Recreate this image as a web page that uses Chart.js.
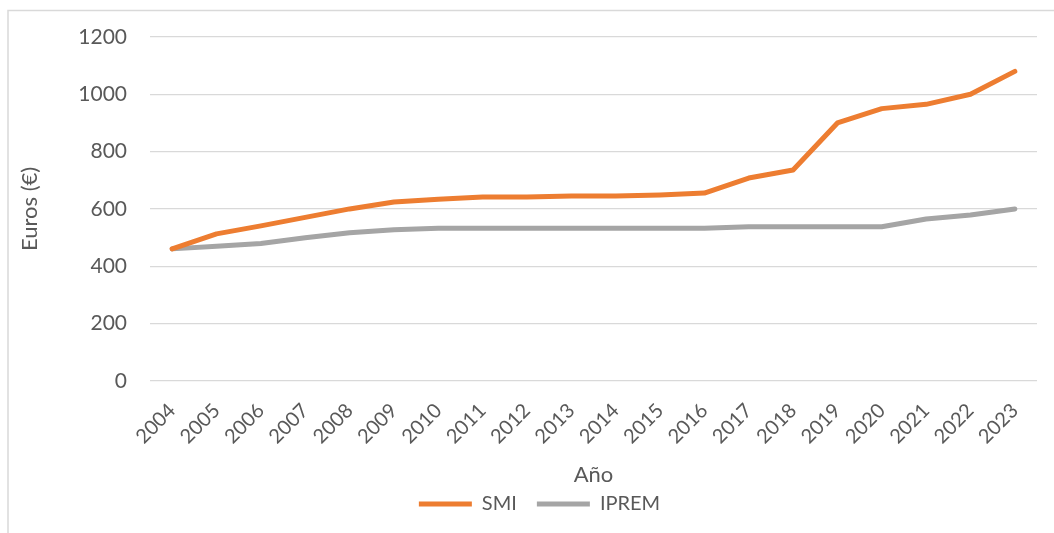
<!DOCTYPE html>
<html>
<head>
<meta charset="utf-8">
<script src="https://cdn.jsdelivr.net/npm/chart.js@4/dist/chart.umd.min.js"></script>
<style>
  html, body { margin: 0; padding: 0; background: #ffffff; }
  #wrap { position: relative; width: 1054px; height: 533px; }
</style>
</head>
<body>
<div id="wrap"><canvas id="chart"></canvas></div>
<script>
// Años y valores mensuales (euros)
const years = ['2004','2005','2006','2007','2008','2009','2010','2011','2012','2013',
               '2014','2015','2016','2017','2018','2019','2020','2021','2022','2023'];
const smi = [460.5, 513, 540.9, 570.6, 600, 624, 633.3, 641.4, 641.4, 645.3,
             645.3, 648.6, 655.2, 707.6, 735.9, 900, 950, 965, 1000, 1080];
const iprem = [460.5, 469.8, 479.1, 499.2, 516.9, 527.24, 532.51, 532.51, 532.51, 532.51,
               532.51, 532.51, 532.51, 537.84, 537.84, 537.84, 537.84, 564.9, 579.02, 600];
const yTicks = [0, 200, 400, 600, 800, 1000, 1200];

const textColor = '#595959';
const gridColor = '#d9d9d9';
const fontFamily = 'Lato, "Open Sans", sans-serif';

// Marco exterior del gráfico
const frame = {
  id: 'frame',
  beforeDraw(chart) {
    const ctx = chart.ctx;
    ctx.save();
    ctx.strokeStyle = '#d9d9d9';
    ctx.lineWidth = 1.5;
    ctx.strokeRect(8, 10.5, 1200, 800);
    ctx.restore();
  }
};

// Desplaza la leyenda hacia la derecha, bajo el centro del área de trazado
const legendShift = {
  id: 'legendShift',
  afterLayout(chart) {
    if (chart.legend) { chart.legend.left += 42; }
  }
};

new Chart(document.getElementById('chart'), {
  type: 'line',
  data: {
    labels: years,
    datasets: [
      {
        label: 'SMI',
        data: smi,
        borderColor: '#ed7d31',
        backgroundColor: '#ed7d31',
        borderWidth: 5,
        borderCapStyle: 'round',
        borderJoinStyle: 'round',
        pointRadius: 0,
        tension: 0
      },
      {
        label: 'IPREM',
        data: iprem,
        borderColor: '#a5a5a5',
        backgroundColor: '#a5a5a5',
        borderWidth: 5,
        borderCapStyle: 'round',
        borderJoinStyle: 'round',
        pointRadius: 0,
        tension: 0
      }
    ]
  },
  options: {
    responsive: true,
    maintainAspectRatio: false,
    animation: false,
    layout: { padding: { top: 37, right: 17, bottom: 9, left: 0 } },
    plugins: {
      tooltip: { enabled: false },
      legend: {
        position: 'bottom',
        labels: {
          color: textColor,
          font: { family: fontFamily, size: 20 },
          usePointStyle: true,
          pointStyle: 'line',
          pointStyleWidth: 53,
          boxHeight: 20,
          padding: 20
        }
      }
    },
    scales: {
      x: {
        offset: true,
        afterFit(scale) { scale.height -= 9; },
        grid: { display: false, drawTicks: false },
        border: { display: false },
        ticks: {
          color: textColor,
          font: { family: fontFamily, size: 20 },
          minRotation: 45,
          maxRotation: 45,
          padding: 18,
          autoSkip: false
        },
        title: {
          display: true,
          text: 'Año',
          color: textColor,
          font: { family: fontFamily, size: 22 },
          padding: { top: 4, bottom: -14 }
        }
      },
      y: {
        min: 0,
        max: 1200,
        afterFit(scale) { scale.width = 150; },
        afterBuildTicks(scale) { scale.ticks = yTicks.map(v => ({ value: v })); },
        grid: { color: gridColor, lineWidth: 1.3, drawTicks: false },
        border: { display: false },
        ticks: {
          color: textColor,
          font: { family: fontFamily, size: 21 },
          padding: 23,
          callback: (value) => String(value)
        },
        title: {
          display: true,
          text: 'Euros (€)',
          color: textColor,
          font: { family: fontFamily, size: 22 },
          padding: { top: 17, bottom: 0 }
        }
      }
    }
  },
  plugins: [frame, legendShift]
});
</script>
</body>
</html>
